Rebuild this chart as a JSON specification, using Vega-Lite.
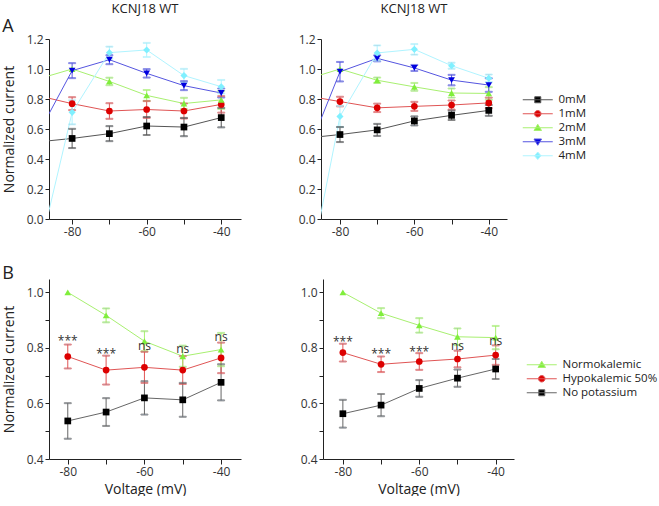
{
  "$schema": "https://vega.github.io/schema/vega-lite/v6.json",
  "padding": {"left": 2, "top": 3, "right": 0, "bottom": 0},
  "config": {
    "font": "Open Sans",
    "view": {"stroke": null},
    "axis": {"grid": false, "domainColor": "#222", "tickColor": "#222", "labelColor": "#333", "labelFontSize": 12, "titleFontSize": 14, "titleFontWeight": "normal", "titleColor": "#222", "labelFont": "Open Sans", "titleFont": "Open Sans", "tickSize": 4, "labelPadding": 2, "labelOverlap": false, "tickCount": 20},
    "title": {"fontSize": 13, "fontWeight": "normal", "color": "#222", "font": "Open Sans"},
    "legend": {"labelFont": "Open Sans", "labelFontSize": 11.5, "labelColor": "#222", "symbolSize": 100, "labelOffset": 15, "rowPadding": 1, "symbolStrokeWidth": 1, "symbolOpacity": 1}
  },
  "datasets": {
    "top_l": [
      {"s": "0mM", "v": -90, "i": 0.512, "lo": null, "hi": null},
      {"s": "0mM", "v": -80, "i": 0.537, "lo": 0.473, "hi": 0.601},
      {"s": "0mM", "v": -70, "i": 0.569, "lo": 0.519, "hi": 0.619},
      {"s": "0mM", "v": -60, "i": 0.620, "lo": 0.560, "hi": 0.680},
      {"s": "0mM", "v": -50, "i": 0.613, "lo": 0.552, "hi": 0.674},
      {"s": "0mM", "v": -40, "i": 0.676, "lo": 0.611, "hi": 0.741},
      {"s": "1mM", "v": -90, "i": 0.827, "lo": null, "hi": null},
      {"s": "1mM", "v": -80, "i": 0.769, "lo": 0.726, "hi": 0.812},
      {"s": "1mM", "v": -70, "i": 0.720, "lo": 0.668, "hi": 0.772},
      {"s": "1mM", "v": -60, "i": 0.730, "lo": 0.674, "hi": 0.786},
      {"s": "1mM", "v": -50, "i": 0.720, "lo": 0.670, "hi": 0.770},
      {"s": "1mM", "v": -40, "i": 0.764, "lo": 0.709, "hi": 0.819},
      {"s": "2mM", "v": -90, "i": 0.927, "lo": null, "hi": null},
      {"s": "2mM", "v": -80, "i": 1.0, "lo": null, "hi": null},
      {"s": "2mM", "v": -70, "i": 0.917, "lo": 0.892, "hi": 0.942},
      {"s": "2mM", "v": -60, "i": 0.824, "lo": 0.788, "hi": 0.860},
      {"s": "2mM", "v": -50, "i": 0.770, "lo": 0.732, "hi": 0.808},
      {"s": "2mM", "v": -40, "i": 0.794, "lo": 0.734, "hi": 0.854},
      {"s": "3mM", "v": -90, "i": 0.526, "lo": null, "hi": null},
      {"s": "3mM", "v": -80, "i": 0.989, "lo": 0.939, "hi": 1.039},
      {"s": "3mM", "v": -70, "i": 1.062, "lo": 1.032, "hi": 1.092},
      {"s": "3mM", "v": -60, "i": 0.971, "lo": 0.943, "hi": 0.999},
      {"s": "3mM", "v": -50, "i": 0.889, "lo": 0.859, "hi": 0.919},
      {"s": "3mM", "v": -40, "i": 0.840, "lo": 0.810, "hi": 0.870},
      {"s": "4mM", "v": -90, "i": -0.344, "lo": null, "hi": null},
      {"s": "4mM", "v": -80, "i": 0.711, "lo": 0.631, "hi": 0.791},
      {"s": "4mM", "v": -70, "i": 1.109, "lo": 1.069, "hi": 1.149},
      {"s": "4mM", "v": -60, "i": 1.127, "lo": 1.080, "hi": 1.174},
      {"s": "4mM", "v": -50, "i": 0.956, "lo": 0.911, "hi": 1.001},
      {"s": "4mM", "v": -40, "i": 0.882, "lo": 0.837, "hi": 0.927}
    ],
    "top_r": [
      {"s": "0mM", "v": -90, "i": 0.537, "lo": null, "hi": null},
      {"s": "0mM", "v": -80, "i": 0.563, "lo": 0.513, "hi": 0.613},
      {"s": "0mM", "v": -70, "i": 0.594, "lo": 0.554, "hi": 0.634},
      {"s": "0mM", "v": -60, "i": 0.654, "lo": 0.624, "hi": 0.684},
      {"s": "0mM", "v": -50, "i": 0.691, "lo": 0.660, "hi": 0.722},
      {"s": "0mM", "v": -40, "i": 0.724, "lo": 0.688, "hi": 0.760},
      {"s": "1mM", "v": -90, "i": 0.825, "lo": null, "hi": null},
      {"s": "1mM", "v": -80, "i": 0.783, "lo": 0.751, "hi": 0.815},
      {"s": "1mM", "v": -70, "i": 0.741, "lo": 0.713, "hi": 0.769},
      {"s": "1mM", "v": -60, "i": 0.751, "lo": 0.721, "hi": 0.781},
      {"s": "1mM", "v": -50, "i": 0.760, "lo": 0.730, "hi": 0.790},
      {"s": "1mM", "v": -40, "i": 0.774, "lo": 0.739, "hi": 0.809},
      {"s": "2mM", "v": -90, "i": 0.924, "lo": null, "hi": null},
      {"s": "2mM", "v": -80, "i": 1.0, "lo": null, "hi": null},
      {"s": "2mM", "v": -70, "i": 0.925, "lo": 0.907, "hi": 0.943},
      {"s": "2mM", "v": -60, "i": 0.881, "lo": 0.855, "hi": 0.907},
      {"s": "2mM", "v": -50, "i": 0.840, "lo": 0.810, "hi": 0.870},
      {"s": "2mM", "v": -40, "i": 0.837, "lo": 0.795, "hi": 0.879},
      {"s": "3mM", "v": -90, "i": 0.364, "lo": null, "hi": null},
      {"s": "3mM", "v": -80, "i": 0.982, "lo": 0.917, "hi": 1.047},
      {"s": "3mM", "v": -70, "i": 1.071, "lo": 1.051, "hi": 1.091},
      {"s": "3mM", "v": -60, "i": 1.007, "lo": 0.987, "hi": 1.027},
      {"s": "3mM", "v": -50, "i": 0.926, "lo": 0.891, "hi": 0.961},
      {"s": "3mM", "v": -40, "i": 0.893, "lo": 0.848, "hi": 0.938},
      {"s": "4mM", "v": -90, "i": -0.578, "lo": null, "hi": null},
      {"s": "4mM", "v": -80, "i": 0.684, "lo": 0.614, "hi": 0.754},
      {"s": "4mM", "v": -70, "i": 1.107, "lo": 1.057, "hi": 1.157},
      {"s": "4mM", "v": -60, "i": 1.131, "lo": 1.096, "hi": 1.166},
      {"s": "4mM", "v": -50, "i": 1.022, "lo": 1.002, "hi": 1.042},
      {"s": "4mM", "v": -40, "i": 0.938, "lo": 0.913, "hi": 0.963}
    ],
    "bot_l": [
      {"s": "No potassium", "v": -80, "i": 0.537, "lo": 0.473, "hi": 0.601},
      {"s": "No potassium", "v": -70, "i": 0.569, "lo": 0.519, "hi": 0.619},
      {"s": "No potassium", "v": -60, "i": 0.620, "lo": 0.560, "hi": 0.680},
      {"s": "No potassium", "v": -50, "i": 0.613, "lo": 0.552, "hi": 0.674},
      {"s": "No potassium", "v": -40, "i": 0.676, "lo": 0.611, "hi": 0.741},
      {"s": "Hypokalemic 50%", "v": -80, "i": 0.769, "lo": 0.726, "hi": 0.812},
      {"s": "Hypokalemic 50%", "v": -70, "i": 0.720, "lo": 0.668, "hi": 0.772},
      {"s": "Hypokalemic 50%", "v": -60, "i": 0.730, "lo": 0.674, "hi": 0.786},
      {"s": "Hypokalemic 50%", "v": -50, "i": 0.720, "lo": 0.670, "hi": 0.770},
      {"s": "Hypokalemic 50%", "v": -40, "i": 0.764, "lo": 0.709, "hi": 0.819},
      {"s": "Normokalemic", "v": -80, "i": 1.0, "lo": null, "hi": null},
      {"s": "Normokalemic", "v": -70, "i": 0.917, "lo": 0.892, "hi": 0.942},
      {"s": "Normokalemic", "v": -60, "i": 0.824, "lo": 0.788, "hi": 0.860},
      {"s": "Normokalemic", "v": -50, "i": 0.770, "lo": 0.732, "hi": 0.808},
      {"s": "Normokalemic", "v": -40, "i": 0.794, "lo": 0.734, "hi": 0.854}
    ],
    "bot_r": [
      {"s": "No potassium", "v": -80, "i": 0.563, "lo": 0.513, "hi": 0.613},
      {"s": "No potassium", "v": -70, "i": 0.594, "lo": 0.554, "hi": 0.634},
      {"s": "No potassium", "v": -60, "i": 0.654, "lo": 0.624, "hi": 0.684},
      {"s": "No potassium", "v": -50, "i": 0.691, "lo": 0.660, "hi": 0.722},
      {"s": "No potassium", "v": -40, "i": 0.724, "lo": 0.688, "hi": 0.760},
      {"s": "Hypokalemic 50%", "v": -80, "i": 0.783, "lo": 0.751, "hi": 0.815},
      {"s": "Hypokalemic 50%", "v": -70, "i": 0.741, "lo": 0.713, "hi": 0.769},
      {"s": "Hypokalemic 50%", "v": -60, "i": 0.751, "lo": 0.721, "hi": 0.781},
      {"s": "Hypokalemic 50%", "v": -50, "i": 0.760, "lo": 0.730, "hi": 0.790},
      {"s": "Hypokalemic 50%", "v": -40, "i": 0.774, "lo": 0.739, "hi": 0.809},
      {"s": "Normokalemic", "v": -80, "i": 1.0, "lo": null, "hi": null},
      {"s": "Normokalemic", "v": -70, "i": 0.925, "lo": 0.907, "hi": 0.943},
      {"s": "Normokalemic", "v": -60, "i": 0.881, "lo": 0.855, "hi": 0.907},
      {"s": "Normokalemic", "v": -50, "i": 0.840, "lo": 0.810, "hi": 0.870},
      {"s": "Normokalemic", "v": -40, "i": 0.837, "lo": 0.795, "hi": 0.879}
    ],
    "ann_l": [
      {"v": -80, "y": 0.809, "t": "***"},
      {"v": -70, "y": 0.762, "t": "***"},
      {"v": -60, "y": 0.792, "t": "ns"},
      {"v": -50, "y": 0.782, "t": "ns"},
      {"v": -40, "y": 0.826, "t": "ns"}
    ],
    "ann_r": [
      {"v": -80, "y": 0.808, "t": "***"},
      {"v": -70, "y": 0.762, "t": "***"},
      {"v": -60, "y": 0.772, "t": "***"},
      {"v": -50, "y": 0.791, "t": "ns"},
      {"v": -40, "y": 0.809, "t": "ns"}
    ]
  },
  "resolve": {"scale": {"color": "independent", "shape": "independent", "stroke": "independent"}, "legend": {"color": "independent", "shape": "independent", "stroke": "independent"}},
  "spacing": 28,
  "vconcat": [
    {
      "title": {"text": "A", "anchor": "start", "frame": "bounds", "fontSize": 18, "offset": 0, "dy": 33},
      "spacing": 57,
      "hconcat": [
        {
          "width": 192, "height": 180,
          "title": {"text": "KCNJ18 WT", "offset": 17},
          "data": {"name": "top_l"},
          "encoding": {
            "x": {"field": "v", "type": "quantitative", "scale": {"domain": [-86.2, -34.7], "nice": false, "zero": false}, "axis": {"values": [-80, -70, -60, -50, -40], "tickCount": 20, "labelExpr": "datum.value % 20 == 0 ? '-' + abs(datum.value) : ''", "title": null, "tickSize": 5, "labelOverlap": false}}
          },
          "layer": [
            {"mark": {"type": "line", "clip": true, "strokeWidth": 1},
             "encoding": {
               "y": {"field": "i", "type": "quantitative", "scale": {"domain": [0, 1.2], "nice": false, "zero": false}, "axis": {"values": [0, 0.2, 0.4, 0.6, 0.8, 1.0, 1.2], "tickCount": 20, "format": ".1f", "labelOverlap": false, "title": "Normalized current", "titlePadding": 10}},
               "stroke": {"field": "s", "type": "nominal", "scale": {"domain": ["0mM", "1mM", "2mM", "3mM", "4mM"], "range": ["#555555", "#e05555", "#a8f070", "#5555e0", "#b0f4ff"]}}}},
            {"transform": [{"filter": "isValid(datum.lo)"}], "mark": {"type": "rule", "strokeWidth": 1},
             "encoding": {"y": {"field": "lo", "type": "quantitative"}, "y2": {"field": "hi"}, "stroke": {"field": "s", "type": "nominal"}}},
            {"transform": [{"filter": "isValid(datum.lo)"}], "mark": {"type": "tick", "orient": "horizontal", "size": 7, "thickness": 1},
             "encoding": {"y": {"field": "lo", "type": "quantitative"}, "stroke": {"field": "s", "type": "nominal"}}},
            {"transform": [{"filter": "isValid(datum.hi)"}], "mark": {"type": "tick", "orient": "horizontal", "size": 7, "thickness": 1},
             "encoding": {"y": {"field": "hi", "type": "quantitative"}, "stroke": {"field": "s", "type": "nominal"}}},
            {"transform": [{"filter": "datum.s == '0mM' && datum.v > -88"}], "mark": {"type": "point", "shape": "square", "filled": true, "opacity": 1, "size": 45},
             "encoding": {"y": {"field": "i", "type": "quantitative"}, "color": {"field": "s", "type": "nominal"}}},
            {"transform": [{"filter": "datum.s == '1mM' && datum.v > -88"}], "mark": {"type": "point", "shape": "circle", "filled": true, "opacity": 1, "size": 45},
             "encoding": {"y": {"field": "i", "type": "quantitative"}, "color": {"field": "s", "type": "nominal"}}},
            {"transform": [{"filter": "datum.s == '2mM' && datum.v > -88"}], "mark": {"type": "point", "shape": "triangle-up", "filled": true, "opacity": 1, "size": 45},
             "encoding": {"y": {"field": "i", "type": "quantitative"}, "color": {"field": "s", "type": "nominal"}}},
            {"transform": [{"filter": "datum.s == '3mM' && datum.v > -88"}], "mark": {"type": "point", "shape": "triangle-down", "filled": true, "opacity": 1, "size": 45},
             "encoding": {"y": {"field": "i", "type": "quantitative"}, "color": {"field": "s", "type": "nominal"}}},
            {"transform": [{"filter": "datum.s == '4mM' && datum.v > -88"}], "mark": {"type": "point", "shape": "diamond", "filled": true, "opacity": 1, "size": 50},
             "encoding": {"y": {"field": "i", "type": "quantitative"}, "color": {"field": "s", "type": "nominal"}}},
            {"transform": [{"filter": "datum.v < -1000"}], "mark": {"type": "point", "filled": true},
             "encoding": {
               "y": {"field": "i", "type": "quantitative"},
               "color": {"field": "s", "type": "nominal", "scale": {"domain": ["0mM", "1mM", "2mM", "3mM", "4mM"], "range": ["#000000", "#dd0000", "#80ee3c", "#0000e0", "#80f0ff"]},
                 "legend": {"title": null, "orient": "none", "legendX": 483, "legendY": 55}},
               "shape": {"field": "s", "type": "nominal", "scale": {"domain": ["0mM", "1mM", "2mM", "3mM", "4mM"], "range": ["M-3,0H3M-0.6,-0.6H0.6V0.6H-0.6Z", "M-3,0H3M0.65,0A0.65,0.65 0 1,1 -0.65,0A0.65,0.65 0 1,1 0.65,0Z", "M-3,0H3M0,-0.7L0.75,0.55H-0.75Z", "M-3,0H3M0,0.7L0.75,-0.55H-0.75Z", "M-3,0H3M0,-0.75L0.65,0L0,0.75L-0.65,0Z"]}},
               "stroke": {"field": "s", "type": "nominal"}}}
          ]
        },
        {
          "width": 186, "height": 180,
          "title": {"text": "KCNJ18 WT", "offset": 17},
          "data": {"name": "top_r"},
          "encoding": {
            "x": {"field": "v", "type": "quantitative", "scale": {"domain": [-85.1, -35.1], "nice": false, "zero": false}, "axis": {"values": [-80, -70, -60, -50, -40], "tickCount": 20, "labelExpr": "datum.value % 20 == 0 ? '-' + abs(datum.value) : ''", "title": null, "tickSize": 5, "labelOverlap": false}}
          },
          "layer": [
            {"mark": {"type": "line", "clip": true, "strokeWidth": 1},
             "encoding": {
               "y": {"field": "i", "type": "quantitative", "scale": {"domain": [0, 1.2], "nice": false, "zero": false}, "axis": {"values": [0, 0.2, 0.4, 0.6, 0.8, 1.0, 1.2], "tickCount": 20, "format": ".1f", "labelOverlap": false, "title": null}},
               "stroke": {"field": "s", "type": "nominal"}}},
            {"transform": [{"filter": "isValid(datum.lo)"}], "mark": {"type": "rule", "strokeWidth": 1},
             "encoding": {"y": {"field": "lo", "type": "quantitative"}, "y2": {"field": "hi"}, "stroke": {"field": "s", "type": "nominal"}}},
            {"transform": [{"filter": "isValid(datum.lo)"}], "mark": {"type": "tick", "orient": "horizontal", "size": 7, "thickness": 1},
             "encoding": {"y": {"field": "lo", "type": "quantitative"}, "stroke": {"field": "s", "type": "nominal"}}},
            {"transform": [{"filter": "isValid(datum.hi)"}], "mark": {"type": "tick", "orient": "horizontal", "size": 7, "thickness": 1},
             "encoding": {"y": {"field": "hi", "type": "quantitative"}, "stroke": {"field": "s", "type": "nominal"}}},
            {"transform": [{"filter": "datum.s == '0mM' && datum.v > -88"}], "mark": {"type": "point", "shape": "square", "filled": true, "opacity": 1, "size": 45},
             "encoding": {"y": {"field": "i", "type": "quantitative"}, "color": {"field": "s", "type": "nominal"}}},
            {"transform": [{"filter": "datum.s == '1mM' && datum.v > -88"}], "mark": {"type": "point", "shape": "circle", "filled": true, "opacity": 1, "size": 45},
             "encoding": {"y": {"field": "i", "type": "quantitative"}, "color": {"field": "s", "type": "nominal"}}},
            {"transform": [{"filter": "datum.s == '2mM' && datum.v > -88"}], "mark": {"type": "point", "shape": "triangle-up", "filled": true, "opacity": 1, "size": 45},
             "encoding": {"y": {"field": "i", "type": "quantitative"}, "color": {"field": "s", "type": "nominal"}}},
            {"transform": [{"filter": "datum.s == '3mM' && datum.v > -88"}], "mark": {"type": "point", "shape": "triangle-down", "filled": true, "opacity": 1, "size": 45},
             "encoding": {"y": {"field": "i", "type": "quantitative"}, "color": {"field": "s", "type": "nominal"}}},
            {"transform": [{"filter": "datum.s == '4mM' && datum.v > -88"}], "mark": {"type": "point", "shape": "diamond", "filled": true, "opacity": 1, "size": 50},
             "encoding": {"y": {"field": "i", "type": "quantitative"}, "color": {"field": "s", "type": "nominal"}}}
          ]
        }
      ]
    },
    {
      "title": {"text": "B", "anchor": "start", "frame": "bounds", "fontSize": 18, "offset": 2, "dy": 6},
      "spacing": 59,
      "hconcat": [
        {
          "width": 192, "height": 180,
          "data": {"name": "bot_l"},
          "encoding": {
            "x": {"field": "v", "type": "quantitative", "scale": {"domain": [-84.9, -34.8], "nice": false, "zero": false}, "axis": {"values": [-80, -70, -60, -50, -40], "tickCount": 20, "labelExpr": "datum.value % 20 == 0 ? '-' + abs(datum.value) : ''", "title": "Voltage (mV)", "titlePadding": 5, "tickSize": 5, "labelOverlap": false}}
          },
          "layer": [
            {"mark": {"type": "line", "strokeWidth": 1},
             "encoding": {
               "y": {"field": "i", "type": "quantitative", "scale": {"domain": [0.4, 1.048], "nice": false, "zero": false}, "axis": {"values": [0.4, 0.5, 0.6, 0.7, 0.8, 0.9, 1.0], "tickCount": 20, "labelExpr": "indexof(['0.0','0.2','0.4','0.6','0.8','1.0','1.2'], format(datum.value, '.1f')) >= 0 ? format(datum.value, '.1f') : ''", "labelOverlap": false, "title": "Normalized current", "titlePadding": 10}},
               "stroke": {"field": "s", "type": "nominal", "scale": {"domain": ["Normokalemic", "Hypokalemic 50%", "No potassium"], "range": ["#a8f070", "#e05555", "#666666"]}}}},
            {"transform": [{"filter": "isValid(datum.lo)"}], "mark": {"type": "rule", "strokeWidth": 1},
             "encoding": {"y": {"field": "lo", "type": "quantitative"}, "y2": {"field": "hi"}, "stroke": {"field": "s", "type": "nominal"}}},
            {"transform": [{"filter": "isValid(datum.lo)"}], "mark": {"type": "tick", "orient": "horizontal", "size": 7, "thickness": 1},
             "encoding": {"y": {"field": "lo", "type": "quantitative"}, "stroke": {"field": "s", "type": "nominal"}}},
            {"transform": [{"filter": "isValid(datum.hi)"}], "mark": {"type": "tick", "orient": "horizontal", "size": 7, "thickness": 1},
             "encoding": {"y": {"field": "hi", "type": "quantitative"}, "stroke": {"field": "s", "type": "nominal"}}},
            {"transform": [{"filter": "datum.s == 'Normokalemic'"}], "mark": {"type": "point", "shape": "triangle-up", "filled": true, "opacity": 1, "size": 45},
             "encoding": {"y": {"field": "i", "type": "quantitative"}, "color": {"field": "s", "type": "nominal"}}},
            {"transform": [{"filter": "datum.s == 'Hypokalemic 50%'"}], "mark": {"type": "point", "shape": "circle", "filled": true, "opacity": 1, "size": 45},
             "encoding": {"y": {"field": "i", "type": "quantitative"}, "color": {"field": "s", "type": "nominal"}}},
            {"transform": [{"filter": "datum.s == 'No potassium'"}], "mark": {"type": "point", "shape": "square", "filled": true, "opacity": 1, "size": 45},
             "encoding": {"y": {"field": "i", "type": "quantitative"}, "color": {"field": "s", "type": "nominal"}}},
            {"transform": [{"filter": "datum.v < -1000"}], "mark": {"type": "point", "filled": true},
             "encoding": {
               "y": {"field": "i", "type": "quantitative"},
               "color": {"field": "s", "type": "nominal", "scale": {"domain": ["Normokalemic", "Hypokalemic 50%", "No potassium"], "range": ["#80ee3c", "#dd0000", "#000000"]},
                 "legend": {"title": null, "orient": "none", "legendX": 487, "legendY": 80}},
               "shape": {"field": "s", "type": "nominal", "scale": {"domain": ["Normokalemic", "Hypokalemic 50%", "No potassium"], "range": ["M-3,0H3M0,-0.7L0.75,0.55H-0.75Z", "M-3,0H3M0.65,0A0.65,0.65 0 1,1 -0.65,0A0.65,0.65 0 1,1 0.65,0Z", "M-3,0H3M-0.6,-0.6H0.6V0.6H-0.6Z"]}},
               "stroke": {"field": "s", "type": "nominal"}}},
            {"data": {"name": "ann_l"}, "mark": {"type": "text", "baseline": "alphabetic", "fontSize": 12, "color": "#333"},
             "encoding": {"y": {"field": "y", "type": "quantitative"}, "text": {"field": "t"}}}
          ]
        },
        {
          "width": 191, "height": 180,
          "data": {"name": "bot_r"},
          "encoding": {
            "x": {"field": "v", "type": "quantitative", "scale": {"domain": [-85.2, -35.2], "nice": false, "zero": false}, "axis": {"values": [-80, -70, -60, -50, -40], "tickCount": 20, "labelExpr": "datum.value % 20 == 0 ? '-' + abs(datum.value) : ''", "title": "Voltage (mV)", "titlePadding": 5, "tickSize": 5, "labelOverlap": false}}
          },
          "layer": [
            {"mark": {"type": "line", "strokeWidth": 1},
             "encoding": {
               "y": {"field": "i", "type": "quantitative", "scale": {"domain": [0.4, 1.048], "nice": false, "zero": false}, "axis": {"values": [0.4, 0.5, 0.6, 0.7, 0.8, 0.9, 1.0], "tickCount": 20, "labelExpr": "indexof(['0.0','0.2','0.4','0.6','0.8','1.0','1.2'], format(datum.value, '.1f')) >= 0 ? format(datum.value, '.1f') : ''", "labelOverlap": false, "title": null}},
               "stroke": {"field": "s", "type": "nominal"}}},
            {"transform": [{"filter": "isValid(datum.lo)"}], "mark": {"type": "rule", "strokeWidth": 1},
             "encoding": {"y": {"field": "lo", "type": "quantitative"}, "y2": {"field": "hi"}, "stroke": {"field": "s", "type": "nominal"}}},
            {"transform": [{"filter": "isValid(datum.lo)"}], "mark": {"type": "tick", "orient": "horizontal", "size": 7, "thickness": 1},
             "encoding": {"y": {"field": "lo", "type": "quantitative"}, "stroke": {"field": "s", "type": "nominal"}}},
            {"transform": [{"filter": "isValid(datum.hi)"}], "mark": {"type": "tick", "orient": "horizontal", "size": 7, "thickness": 1},
             "encoding": {"y": {"field": "hi", "type": "quantitative"}, "stroke": {"field": "s", "type": "nominal"}}},
            {"transform": [{"filter": "datum.s == 'Normokalemic'"}], "mark": {"type": "point", "shape": "triangle-up", "filled": true, "opacity": 1, "size": 45},
             "encoding": {"y": {"field": "i", "type": "quantitative"}, "color": {"field": "s", "type": "nominal"}}},
            {"transform": [{"filter": "datum.s == 'Hypokalemic 50%'"}], "mark": {"type": "point", "shape": "circle", "filled": true, "opacity": 1, "size": 45},
             "encoding": {"y": {"field": "i", "type": "quantitative"}, "color": {"field": "s", "type": "nominal"}}},
            {"transform": [{"filter": "datum.s == 'No potassium'"}], "mark": {"type": "point", "shape": "square", "filled": true, "opacity": 1, "size": 45},
             "encoding": {"y": {"field": "i", "type": "quantitative"}, "color": {"field": "s", "type": "nominal"}}},
            {"data": {"name": "ann_r"}, "mark": {"type": "text", "baseline": "alphabetic", "fontSize": 12, "color": "#333"},
             "encoding": {"y": {"field": "y", "type": "quantitative"}, "text": {"field": "t"}}}
          ]
        }
      ]
    }
  ]
}
